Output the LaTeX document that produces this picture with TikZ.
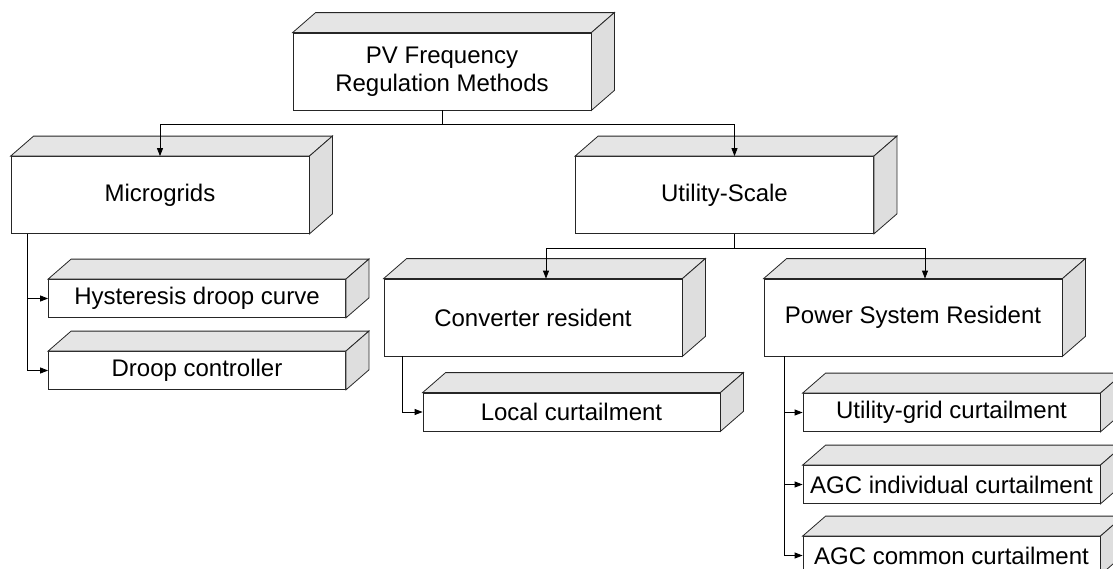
\documentclass[tikz,border=0pt]{standalone}
\usepackage{fontspec}
\setmainfont{Liberation Sans}
\usetikzlibrary{arrows.meta}

% depth faces of a box node
\newcommand{\boxfaces}[1]{%
  \draw[topface] (#1.north west) -- ++(23,-20) -- ([shift={(23,-20)}]#1.north east) -- (#1.north east) -- cycle;
  \draw[sideface] (#1.north east) -- ++(23,-20) -- ([shift={(23,-20)}]#1.south east) -- (#1.south east) -- cycle;
}

\begin{document}
\begin{tikzpicture}[x=1pt, y=-1pt,
    every node/.style={
    font=\fontsize{24}{28}\selectfont,
    draw=black!85,
    fill=white,
    rectangle,
    inner sep=0pt,
    line width=0.8pt},
    bigbox/.style={minimum width=298pt, minimum height=77pt, align=center},
    smallbox/.style={minimum width=297pt, minimum height=38pt},
    topface/.style={draw=black!85, fill=black!10, line width=0.8pt},
    sideface/.style={draw=black!85, fill=black!13, line width=0.8pt},
    conn/.style={-{Triangle[length=8pt,width=6pt]}, line width=0.8pt}]

    \useasboundingbox (0,0) rectangle (1113,568);
    \clip (0,0) rectangle (1113,568);

    \node[bigbox] (root) at (442,71.5) {PV Frequency\\Regulation Methods};
    \node[bigbox] (micro) at (160,195) {Microgrids};
    \node[bigbox] (util) at (724.5,195) {Utility-Scale};
    \node[bigbox] (conv) at (533,317.5) {Converter resident};
    \node[bigbox] (psr) at (913,317.5) {Power System Resident};

    \node[smallbox] (hyst) at (197,298.5) {Hysteresis droop curve};
    \node[smallbox] (droop) at (197,370.5) {Droop controller};
    \node[smallbox] (local) at (571.5,412) {Local curtailment};
    \node[smallbox] (ugc) at (951.5,412.5) {Utility-grid curtailment};
    \node[smallbox] (agci) at (951.5,484.5) {AGC individual curtailment};
    \node[smallbox] (agcc) at (951.5,555.5) {AGC common curtailment};

    \foreach \b in {root,micro,util,conv,psr,hyst,droop,local,ugc,agci,agcc}
        {\boxfaces{\b}}

    \draw[conn] (root.south) -- ++(0,14) coordinate (rootfork) -| (micro.north);
    \draw[conn] (rootfork) -| ([xshift=10pt]util.north);

    \draw[conn] ([xshift=10pt]util.south) -- ++(0,14) coordinate (utilfork) -| ([xshift=13pt]conv.north);
    \draw[conn] (utilfork) -| ([xshift=12pt]psr.north);

    \draw[conn] ([xshift=17pt]micro.south west) |- (hyst.west);
    \draw[conn] ([xshift=17pt]micro.south west) |- (droop.west);
    \draw[conn] ([xshift=19pt]conv.south west) |- (local.west);
    \draw[conn] ([xshift=21pt]psr.south west) |- (ugc.west);
    \draw[conn] ([xshift=21pt]psr.south west) |- (agci.west);
    \draw[conn] ([xshift=21pt]psr.south west) |- (agcc.west);
\end{tikzpicture}
\end{document}
